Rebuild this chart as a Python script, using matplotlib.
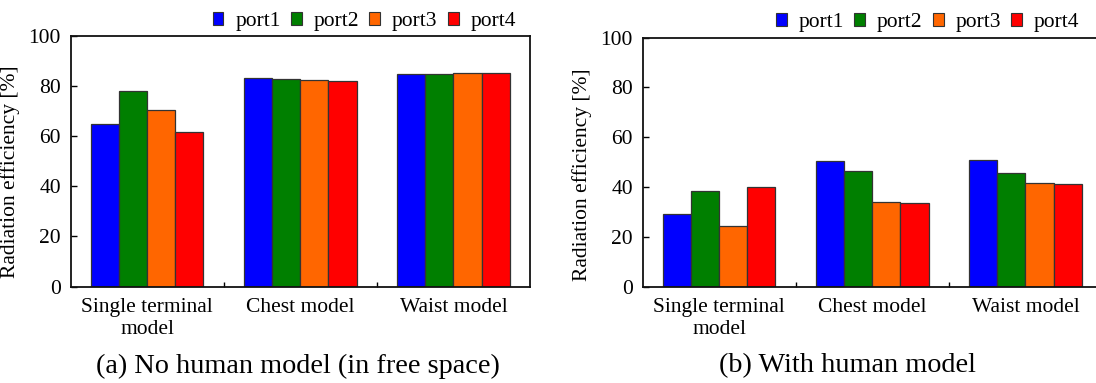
import matplotlib
matplotlib.use("Agg")
import matplotlib.pyplot as plt
from matplotlib.patches import Patch
import numpy as np

plt.rcParams['font.family'] = ['Liberation Serif', 'DejaVu Serif']

categories = ["Single terminal\nmodel", "Chest model", "Waist model"]
ports = ["port1", "port2", "port3", "port4"]
colors = ["#0000FF", "#007F00", "#FF6600", "#FF0000"]

free_port1 = [65.0, 83.1, 84.7]
free_port2 = [78.1, 82.7, 84.7]
free_port3 = [70.4, 82.2, 85.3]
free_port4 = [61.6, 81.9, 85.3]

human_port1 = [29.3, 50.6, 51.0]
human_port2 = [38.2, 46.3, 45.6]
human_port3 = [24.4, 34.1, 41.8]
human_port4 = [39.9, 33.5, 41.1]

yticks = [0, 20, 40, 60, 80, 100]
captions = ["(a) No human model (in free space)", "(b) With human model"]

W, H = 1096, 383
fig = plt.figure(figsize=(W / 100, H / 100), dpi=100)

def px(x0, y_top, x1, y_bot):
    return [x0 / W, 1 - y_bot / H, (x1 - x0) / W, (y_bot - y_top) / H]

ax1 = fig.add_axes(px(70.7, 35.7, 530.0, 286.7))
ax2 = fig.add_axes(px(642.7, 37.7, 1102.0, 286.5))

bw = 0.1835
x = np.arange(len(categories))

def draw(ax, series, legend_xy, caption, cap_xy, ylab_y):
    for i, (vals, c) in enumerate(zip(series, colors)):
        ax.bar(x + (i - 1.5) * bw, vals, width=bw, color=c,
               edgecolor="#333333", linewidth=0.9, zorder=2)
    ax.set_xlim(-0.5, 2.5)
    ax.set_ylim(0, 100)
    ax.set_yticks(yticks)
    ax.set_yticklabels([str(t) for t in yticks])
    ax.tick_params(axis='y', direction='in', length=4, width=1, pad=7,
                   labelsize=15.5)
    ax.set_xticks([0.5, 1.5])
    ax.set_xticklabels([])
    ax.tick_params(axis='x', which='major', direction='in', length=3.5, width=1)
    ax.set_xticks(x, minor=True)
    ax.set_xticklabels(categories, minor=True, fontsize=15.5, linespacing=1.25)
    ax.tick_params(axis='x', which='minor', length=0, pad=8)
    for s in ax.spines.values():
        s.set_linewidth(1.3)
        s.set_color("#111111")
    ax.set_ylabel("Radiation efficiency [%]", fontsize=15.5)
    ax.yaxis.set_label_coords(-0.110, ylab_y)
    handles = [Patch(facecolor=c, edgecolor="#333333", linewidth=0.8) for c in colors]
    fig.legend(handles, ports, loc='center left',
               bbox_to_anchor=(legend_xy[0] / W, 1 - legend_xy[1] / H),
               ncol=4, frameon=False, fontsize=15.5, borderpad=0,
               borderaxespad=0, handlelength=0.5, handleheight=0.5,
               handletextpad=0.55, columnspacing=0.48)
    fig.text(cap_xy[0] / W, 1 - cap_xy[1] / H, caption, fontsize=20.3,
             ha='center', va='center')

draw(ax1, [free_port1, free_port2, free_port3, free_port4],
     (212.7, 21.7), captions[0], (298, 366), 0.46)
draw(ax2, [human_port1, human_port2, human_port3, human_port4],
     (776, 22.7), captions[1], (847, 366), 0.45)

fig.savefig("out.png", dpi=100)
